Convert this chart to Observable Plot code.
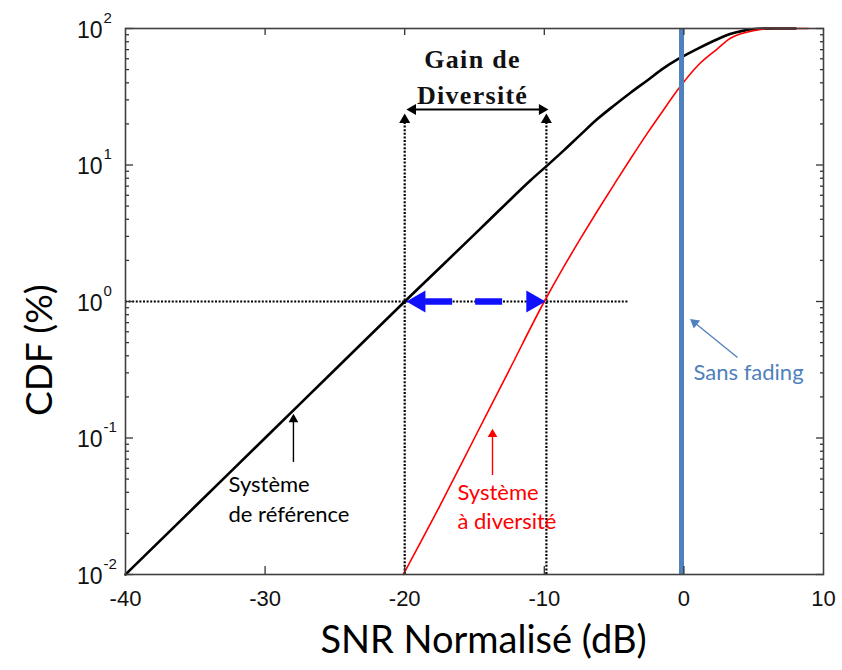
<!DOCTYPE html>
<html><head><meta charset="utf-8">
<script src="https://cdn.jsdelivr.net/npm/d3@7"></script>
<script src="https://cdn.jsdelivr.net/npm/@observablehq/plot@0.6"></script>
<style>body{margin:0;background:#fff} #chart svg{display:block}</style>
</head><body><div id="chart"></div>
<script>
// Reference system (black) : SNR (dB) and CDF (%)
const refSNR = [-40, -35, -30, -25, -20, -15, -13, -11, -9.8, -8.6, -7.4, -6.2, -5, -3.8, -2.6, -1.5, -0.4, 1, 2.4, 3.3, 4.3, 5.3, 6.5, 8];
const refCDF = [0.01, 0.0316, 0.1, 0.316, 1.0, 3.1, 4.9, 7.7, 9.9, 12.8, 16.7, 21.7, 27.3, 34, 41.8, 50.8, 59.8, 71.3, 83.5, 91, 96.5, 99.5, 100, 100];
// Diversity system (red)
const divSNR = [-20.1, -17.5, -15, -12.5, -10, -8.6, -7.4, -6.2, -5, -3.8, -2.6, -1.5, -0.4, 1, 2.4, 3.3, 4.5, 5.5, 6.2, 8.9];
const divCDF = [0.01, 0.0316, 0.1, 0.316, 1.0, 1.8, 2.9, 4.6, 7.2, 11.2, 17.2, 25, 36, 53.6, 71, 84.5, 94, 98.5, 100, 100];
// "Sans fading" vertical line
const sansFadingSNR = [-0.17];

// Axes
const xTicks = [-40, -30, -20, -10, 0, 10];
const yExponents = [-2, -1, 0, 1, 2];
const minorMultipliers = [2, 3, 4, 5, 6, 7, 8, 9];

// Annotation geometry (data units)
const gainLevel = [1];           // CDF level (%) where the gain is measured
const gainLineEnd = [-4];        // right end of dotted horizontal
const gainRefSNR = [-20];        // reference system at 1 %
const gainDivSNR = [-9.85];      // diversity system at 1 %
const guideTop = [21.4];         // top of vertical dotted guides
const gainArrowLevel = [25.5];   // level of black double arrow
const gainArrowEnds = [-19.42, -10.16];
const gainTextSNR = [-15.14];
const gainTextLines = ["Gain de", "Diversité"];
const gainTextLevels = [51.2, 28.2];
const blueShaft = [-18.5, -11.35];
const blueHeads = [-18.97, -10.83];

const refLabelLines = ["Système", "de référence"];
const refLabelSNR = [-32.62];
const refLabelLevels = [0.0399, 0.0244];
const refArrowSNR = [-27.97];
const refArrowFromTo = [0.0662, 0.137];

const divLabelLines = ["Système", "à diversité"];
const divLabelSNR = [-16.22];
const divLabelLevels = [0.0354, 0.0217];
const divArrowSNR = [-13.71];
const divArrowFromTo = [0.0531, 0.1064];

const sfLabel = ["Sans fading"];
const sfLabelPos = [0.69, 0.264];
const sfArrowTail = [3.84, 0.389];
const sfArrowHead = [0.77, 0.70];

const yTitleLevel = [0.44];

const refData = refSNR.map((x, i) => ({x, y: refCDF[i]}));
const divData = divSNR.map((x, i) => ({x, y: divCDF[i]}));
const yMajor = yExponents.map(e => Math.pow(10, e));
const yMinor = yExponents.slice(0, -1).flatMap(e => minorMultipliers.map(m => m * Math.pow(10, e)));

const SANS = "Lato, 'Noto Sans', sans-serif";
const ARIAL = "'Liberation Sans', Arial, sans-serif";
const SERIF = "'Liberation Serif', 'Times New Roman', serif";
const BLUE = "#4F81BD";
const dotted = {stroke: "#000", strokeWidth: 2.2, strokeDasharray: "2,1.6"};

const chart = Plot.plot({
  width: 842,
  height: 670,
  marginLeft: 125,
  marginRight: 19,
  marginTop: 28,
  marginBottom: 96,
  x: {domain: [-40, 10], label: null},
  y: {type: "log", domain: [0.01, 100], label: null},
  style: {background: "#fff"},
  marks: [
    // dotted guides
    Plot.ruleY(gainLevel, {x1: -40, x2: gainLineEnd[0], ...dotted}),
    Plot.ruleX([gainRefSNR[0], gainDivSNR[0]], {y1: 0.01, y2: guideTop[0], ...dotted}),
    // curves
    Plot.line(refData, {x: "x", y: "y", stroke: "#000", strokeWidth: 2.6, curve: "monotone-x"}),
    Plot.line(divData, {x: "x", y: "y", stroke: "#ff0000", strokeWidth: 1.6, curve: "monotone-x"}),
    // black arrowheads on vertical guides
    Plot.dot([gainRefSNR[0], gainDivSNR[0]], {x: d => d, y: guideTop[0], symbol: "triangle", r: 4.1, fill: "#000", stroke: null}),
    // black double arrow
    Plot.ruleY(gainArrowLevel, {x1: gainArrowEnds[0], x2: gainArrowEnds[1], stroke: "#000", strokeWidth: 2}),
    Plot.dot(gainArrowEnds, {x: d => d, y: gainArrowLevel[0], symbol: "triangle", r: 4.1, fill: "#000", stroke: null, rotate: (d, i) => i === 0 ? -90 : 90}),
    Plot.text(gainTextLines, {x: gainTextSNR[0], y: (d, i) => gainTextLevels[i], text: d => d, lineAnchor: "bottom", fontFamily: SERIF, fontWeight: "bold", fontSize: 26, fill: "#111"}),
    // blue dashed double arrow
    Plot.ruleY(gainLevel, {x1: blueShaft[0], x2: blueShaft[1], stroke: "#1010ff", strokeWidth: 6.5, strokeDasharray: "27,23"}),
    Plot.dot(blueHeads, {x: d => d, y: gainLevel[0], symbol: "triangle", r: 8.2, fill: "#1010ff", stroke: null, rotate: (d, i) => i === 0 ? -90 : 90}),
    // "Sans fading" line
    Plot.ruleX(sansFadingSNR, {stroke: BLUE, strokeWidth: 5}),
    // reference label + arrow
    Plot.ruleX(refArrowSNR, {y1: refArrowFromTo[0], y2: refArrowFromTo[1], stroke: "#000", strokeWidth: 1.4}),
    Plot.dot(refArrowSNR, {x: d => d, y: refArrowFromTo[1], symbol: "triangle", r: 3.6, fill: "#000", stroke: null}),
    Plot.text(refLabelLines, {x: refLabelSNR[0], y: (d, i) => refLabelLevels[i], text: d => d, textAnchor: "start", lineAnchor: "bottom", fontFamily: SANS, fontSize: 22, fill: "#000"}),
    // diversity label + arrow
    Plot.ruleX(divArrowSNR, {y1: divArrowFromTo[0], y2: divArrowFromTo[1], stroke: "#ff0000", strokeWidth: 1.4}),
    Plot.dot(divArrowSNR, {x: d => d, y: divArrowFromTo[1], symbol: "triangle", r: 3.6, fill: "#ff0000", stroke: null}),
    Plot.text(divLabelLines, {x: divLabelSNR[0], y: (d, i) => divLabelLevels[i], text: d => d, textAnchor: "start", lineAnchor: "bottom", fontFamily: SANS, fontSize: 22, fill: "#ff0000"}),
    // sans fading label + arrow
    Plot.link([0], {x1: sfArrowTail[0], y1: sfArrowTail[1], x2: sfArrowHead[0], y2: sfArrowHead[1], stroke: BLUE, strokeWidth: 1.3}),
    Plot.dot([0], {x: sfArrowHead[0], y: sfArrowHead[1], symbol: "triangle", r: 3.8, fill: BLUE, stroke: null, rotate: -51}),
    Plot.text(sfLabel, {x: sfLabelPos[0], y: sfLabelPos[1], text: d => d, textAnchor: "start", lineAnchor: "bottom", fontFamily: SANS, fontSize: 22, fill: BLUE}),
    // axes: inward ticks
    Plot.axisX(xTicks.slice(1, -1), {anchor: "bottom", tickSize: -8, tickFormat: () => "", label: null, stroke: "#333", strokeWidth: 1.3}),
    Plot.axisX(xTicks.slice(1, -1), {anchor: "top", tickSize: -6, tickFormat: () => "", label: null, stroke: "#333", strokeWidth: 1.3}),
    Plot.axisY(yMajor, {anchor: "left", tickSize: -8, tickFormat: () => "", label: null, stroke: "#333", strokeWidth: 1.3}),
    Plot.axisY(yMajor, {anchor: "right", tickSize: -8, tickFormat: () => "", label: null, stroke: "#333", strokeWidth: 1.3}),
    Plot.axisY(yMinor, {anchor: "left", tickSize: -4, tickFormat: () => "", label: null, stroke: "#333", strokeWidth: 1.3}),
    Plot.axisY(yMinor, {anchor: "right", tickSize: -4, tickFormat: () => "", label: null, stroke: "#333", strokeWidth: 1.3}),
    // tick labels
    Plot.text(xTicks, {x: d => d, frameAnchor: "bottom", dy: 16, textAnchor: "middle", lineAnchor: "top", text: d => String(d), fontFamily: ARIAL, fontSize: 22, fill: "#111"}),
    Plot.text(yExponents, {y: e => Math.pow(10, e), frameAnchor: "left", dx: -23, dy: 2, textAnchor: "end", lineAnchor: "middle", text: () => "10", fontFamily: ARIAL, fontSize: 23, fill: "#111"}),
    Plot.text(yExponents, {y: e => Math.pow(10, e), frameAnchor: "left", dx: -22, dy: -6, textAnchor: "start", lineAnchor: "bottom", text: e => String(e), fontFamily: ARIAL, fontSize: 15, fill: "#111"}),
    // axis titles
    Plot.text(["SNR Normalisé (dB)"], {frameAnchor: "bottom", dx: 9, dy: 78, textAnchor: "middle", lineAnchor: "bottom", text: d => d, fontFamily: SANS, fontSize: 38, fill: "#000"}),
    Plot.text(["CDF (%)"], {y: yTitleLevel[0], frameAnchor: "left", dx: -85, rotate: -90, textAnchor: "middle", lineAnchor: "middle", text: d => d, fontFamily: SANS, fontSize: 37, fill: "#000"}),
    Plot.frame({stroke: "#404040", strokeWidth: 1.6})
  ]
});
d3.select(chart).selectAll("text")
  .filter(function() { return gainTextLines.includes(this.textContent); })
  .style("letter-spacing", "1.3px");
document.getElementById("chart").appendChild(chart);
</script>
</body></html>
